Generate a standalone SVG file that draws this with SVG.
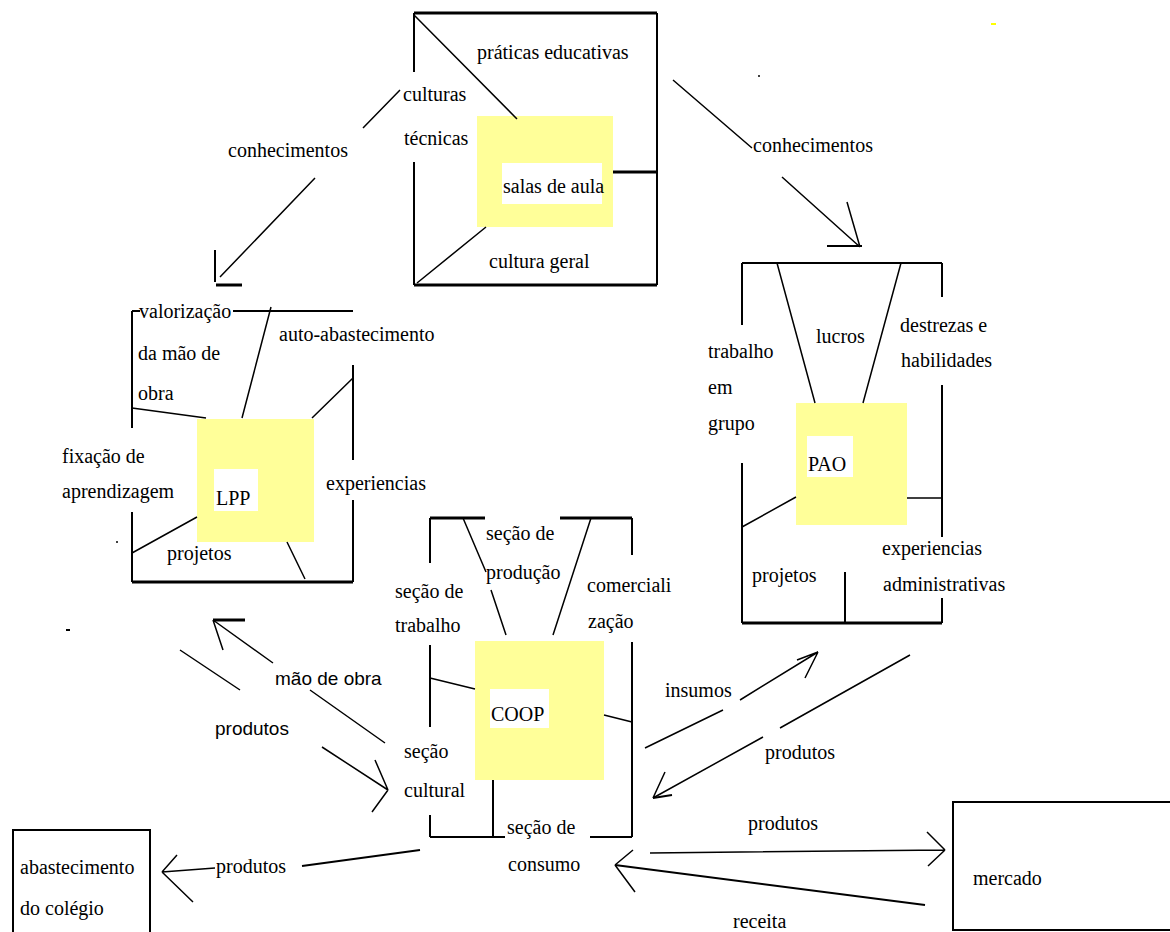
<svg xmlns="http://www.w3.org/2000/svg" width="1170" height="932" viewBox="0 0 1170 932">
<defs>
<style>
.t{font-family:"Liberation Serif","Times New Roman",serif;font-size:20px;fill:#000}
.s{font-family:"Liberation Sans",Arial,sans-serif;font-size:19px;fill:#000}
.f{fill:none;stroke:#000;stroke-width:2}
.fb{fill:none;stroke:#000;stroke-width:3}
.l{fill:none;stroke:#000;stroke-width:1.5}
.y{fill:#ffff99}
.w{fill:#fff}
</style>
</defs>
<rect width="1170" height="932" fill="#fff"/>

<g id="salas-de-aula">
<rect class="y" x="477" y="116" width="136" height="111"/>
<rect class="w" x="502" y="163" width="100" height="41"/>
<path class="fb" d="M414 13H657M414 285H657M613 172H657"/>
<path class="f" d="M657 13V285M414 13V72M414 162V285"/>
<path class="l" d="M414 15L517 119M417 283L486 227"/>
<text class="t" x="477" y="59">práticas educativas</text>
<text class="t" x="403" y="101">culturas</text>
<text class="t" x="404" y="145">técnicas</text>
<text class="t" x="503" y="193">salas de aula</text>
<text class="t" x="489" y="268">cultura geral</text>
</g>

<g id="LPP">
<rect class="y" x="197" y="419" width="117" height="123"/>
<rect class="w" x="214" y="469" width="44" height="42"/>
<path class="f" d="M132 311H140M233 311H353M132 311V428M132 512V582M353 365V460M353 500V582"/>
<path class="fb" d="M132 582H353"/>
<path class="l" d="M132 408L206 418M242 418L271 307M312 418L353 378M132 553L197 517M287 542L305 579"/>
<text class="t" x="139" y="318">valorização</text>
<text class="t" x="138" y="360">da mão de</text>
<text class="t" x="138" y="400">obra</text>
<text class="t" x="279" y="341">auto-abastecimento</text>
<text class="t" x="62" y="463">fixação de</text>
<text class="t" x="62" y="498">aprendizagem</text>
<text class="t" x="216" y="505">LPP</text>
<text class="t" x="326" y="490">experiencias</text>
<text class="t" x="167" y="560">projetos</text>
</g>

<g id="PAO">
<rect class="y" x="796" y="403" width="111" height="122"/>
<rect class="w" x="807" y="436" width="46" height="41"/>
<path class="f" d="M742 263H942M742 263V325M742 463V623M942 263V297M942 385V537M942 598V623M845 572V623"/>
<path class="fb" d="M742 623H942"/>
<path class="l" d="M777 263L815 403M901 263L863 403M907 498H942M742 527L796 497"/>
<text class="t" x="816" y="343">lucros</text>
<text class="t" x="900" y="332">destrezas e</text>
<text class="t" x="901" y="367">habilidades</text>
<text class="t" x="708" y="358">trabalho</text>
<text class="t" x="708" y="394">em</text>
<text class="t" x="708" y="430">grupo</text>
<text class="t" x="808" y="471">PAO</text>
<text class="t" x="752" y="582">projetos</text>
<text class="t" x="882" y="555">experiencias</text>
<text class="t" x="883" y="591">administrativas</text>
</g>

<g id="COOP">
<rect class="y" x="475" y="641" width="129" height="139"/>
<rect class="w" x="490" y="689" width="59" height="39"/>
<path class="fb" d="M430 518H485M560 518H632"/>
<path class="f" d="M430 518V563M430 645V727M430 815V837M632 518V555M632 642V837M430 837H505M590 837H632M493 780V837"/>
<path class="l" d="M463 518L486 572M491 590L506 635M591 518L553 635M430 678L475 689M604 715L632 722"/>
<text class="t" x="486" y="540">seção de</text>
<text class="t" x="486" y="579">produção</text>
<text class="t" x="395" y="598">seção de</text>
<text class="t" x="395" y="632">trabalho</text>
<text class="t" x="587" y="592">comerciali</text>
<text class="t" x="588" y="628">zação</text>
<text class="t" x="491" y="721">COOP</text>
<text class="t" x="404" y="758">seção</text>
<text class="t" x="404" y="797">cultural</text>
<text class="t" x="507" y="834">seção de</text>
<text class="t" x="508" y="871">consumo</text>
</g>

<g id="abastecimento-do-colegio">
<rect class="f" x="13" y="830" width="137" height="110"/>
<text class="t" x="20" y="874">abastecimento</text>
<text class="t" x="20" y="915">do colégio</text>
</g>

<g id="mercado">
<rect class="f" x="953" y="802" width="225" height="128"/>
<text class="t" x="973" y="885">mercado</text>
</g>

<g id="connectors">
<path class="l" d="M400 90L363 128M315 178L220 277"/>
<path class="fb" d="M216 285H242"/>
<path class="f" d="M215 250V282"/>
<text class="t" x="228" y="157">conhecimentos</text>

<path class="l" d="M673 80L752 148M782 177L860 247M847 202L860 247"/>
<path class="f" d="M827 246H862"/>
<text class="t" x="753" y="152">conhecimentos</text>

<path class="l" d="M213 620L273 663M310 690L385 743M213 620L223 650"/>
<path class="fb" d="M213 620H245"/>
<text class="s" x="275" y="685">mão de obra</text>

<path class="l" d="M180 650L240 690M322 747L388 790M375 760L388 790M372 812L388 790"/>
<text class="s" x="215" y="735">produtos</text>

<path class="l" d="M645 748L723 710M740 700L818 652M797 660L818 652M805 678L818 652"/>
<text class="t" x="665" y="697">insumos</text>

<path class="l" d="M910 655L780 728M763 737L653 798M665 772L653 798"/>
<path class="f" d="M653 798L672 795"/>
<text class="t" x="765" y="759">produtos</text>

<path class="l" d="M650 853L945 850M927 832L945 850M928 866L945 850"/>
<text class="t" x="748" y="830">produtos</text>

<path class="f" d="M925 905L615 865"/>
<path class="l" d="M633 850L615 865M635 892L615 865"/>
<text class="t" x="733" y="928">receita</text>

<path class="f" d="M302 866L420 850"/>
<path class="l" d="M162 872L215 868M162 872L177 855M162 872L193 902"/>
<text class="t" x="216" y="873">produtos</text>
</g>

<circle cx="117" cy="542" r="1" fill="#000"/>
<rect x="66" y="629" width="4" height="2" fill="#000"/>
<circle cx="759" cy="76" r="1" fill="#000"/>
<rect x="991" y="23" width="5" height="2" fill="#ffff00"/>
</svg>
